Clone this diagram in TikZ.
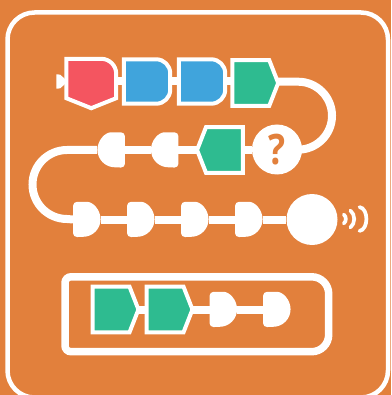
\documentclass[tikz,border=0pt]{standalone}
\usepackage{fontspec}
\setsansfont{Open Sans}
\definecolor{bgorange}{HTML}{E2803C}
\definecolor{redblock}{HTML}{F45560}
\definecolor{blueblock}{HTML}{40A4DC}
\definecolor{greenblock}{HTML}{2EBB90}

\tikzset{
	block/.style={ inner sep=0pt, minimum width=#1 },
	hatblock/.style={ block=49.5, minimum height=49 },
	capblock/.style={ block=46, minimum height=44 },
	hexblock/.style={ block=45.5, minimum height=45.5 },
	bead/.style={ block=27.5, minimum height=35 },
	hub/.style={ circle, fill=white, inner sep=0pt, minimum size=#1 },
	wire/.style={ white, line width=8 },
	outline/.style={ draw=white, line width=4, line join=miter },
	wave/.style={ white, line width=3.7, line cap=round, bend left=#1 }
}

% shapes are drawn around a node, with its size
\newcommand{\hatshape}[2]{\path[outline,fill=#2]
	(#1.north west) [rounded corners=15] -- (#1.north east)
	[rounded corners=0] -- ([yshift=10]#1.south east) -- (#1.south) -- ([yshift=10]#1.south west) -- cycle;}
\newcommand{\capshape}[2]{\path[outline,fill=#2]
	(#1.north west) [rounded corners=14] -- (#1.north east) -- (#1.south east)
	[rounded corners=0] -- (#1.south west) -- cycle;}
\newcommand{\hexright}[1]{\path[outline,fill=greenblock]
	(#1.north west) -- ([xshift=-9]#1.north east) -- (#1.east) -- ([xshift=-9]#1.south east) -- (#1.south west) -- cycle;}
\newcommand{\hexleft}[1]{\path[outline,fill=greenblock]
	(#1.north east) -- ([xshift=9]#1.north west) -- (#1.west) -- ([xshift=9]#1.south west) -- (#1.south east) -- cycle;}
\newcommand{\beadright}[1]{\fill[white]
	(#1.west) [rounded corners=4] -- (#1.north west) -- ([xshift=10]#1.north west) [sharp corners]
	arc[start angle=-90,end angle=90,radius=17.5] [rounded corners=4] -- (#1.south west) -- cycle;}
\newcommand{\beadleft}[1]{\fill[white]
	(#1.east) [rounded corners=4] -- (#1.north east) -- ([xshift=-10]#1.north east) [sharp corners]
	arc[start angle=-90,end angle=-270,radius=17.5] [rounded corners=4] -- (#1.south east) -- cycle;}

\begin{document}
\begin{tikzpicture}[x=1pt,y=-1pt]
\useasboundingbox (0,0) rectangle (391,395);
\fill[bgorange] (0,0) rectangle (391,395);
\draw[white,line width=4.5,rounded corners=27] (7.5,12.5) rectangle (388,397.5);

\node at (91.25,83.5) (redone) [hatblock] {};
\node at (147,81.5) (blueone) [capblock] {};
\node at (202,81.5) (bluetwo) [capblock] {};
\node at (255.25,83) (greenone) [hexblock] {};
\node at (277,149.5) (query) [hub=50,text=bgorange,font=\sffamily\bfseries\fontsize{42}{42}\selectfont] {\scalebox{.85}[1]{?}};
\node at (220,150) (greentwo) [hexblock] {};
\node at (164.5,150) (beadtwo) [bead] {};
\node at (111,150) (beadone) [bead] {};
\node at (87,219.5) (beadthree) [bead] {};
\node at (141,219.5) (beadfour) [bead] {};
\node at (195,219.5) (beadfive) [bead] {};
\node at (249,219.5) (beadsix) [bead] {};
\node at (312,219.5) (speaker) [hub=51] {};
\node at (115.5,309.5) (greenthree) [hexblock] {};
\node at (169.5,309.5) (greenfour) [hexblock] {};
\node at (223.5,309.5) (beadseven) [bead] {};
\node at (277,309.5) (beadeight) [bead] {};

% connectors
\foreach \a/\b in {blueone/bluetwo,beadtwo/greentwo,beadone/beadtwo,
	beadthree/beadfour,beadfour/beadfive,beadfive/beadsix,beadsix/speaker,greenthree/greenfour,greenfour/beadseven,beadseven/beadeight}
	\draw[wire] (\a) -- (\b);
\draw[wire] (greentwo) -- (query.west |- greentwo);
\draw[wire] (redone.east |- blueone) -- (blueone);
\draw[wire] (bluetwo) -- (bluetwo -| greenone.west);
\draw[wire] (greenone.east |- 0,81.7) -- (298,81.7) arc[start angle=-90,end angle=90,radius=34];
\draw[wire] (beadone.west) -- (67,150) arc[start angle=-90,end angle=-270,radius=34.5] -- (beadthree.west);

% blocks
\hatshape{redone}{redblock}
\capshape{blueone}{blueblock}
\capshape{bluetwo}{blueblock}
\hexright{greenone}
\hexleft{greentwo}
\hexright{greenthree}
\hexright{greenfour}
\foreach \n in {beadone,beadtwo} {\beadleft{\n}}
\foreach \n in {beadthree,beadfour,beadfive,beadsix,beadseven,beadeight} {\beadright{\n}}

% tail of first block
\fill[white,draw=white,line width=1.5,line join=round] (57,75) -- (60,75.5) -- (65,80) -- (65,83) -- (60,87.5) -- (57,88) -- cycle;

% sound
\foreach \x/\h/\b in {343.8/4.5/50,350.4/8.5/50,359.5/12/80} {
	\coordinate (wavetop) at (\x,219-\h);
	\coordinate (wavebot) at (\x,219+\h);
	\draw[wave=\b] (wavetop) to (wavebot);
}

% bottom box
\draw[white,line width=7.5] (71,276.8) -- (311.7,276.8) arc[start angle=-90,end angle=0,radius=17]
	-- (328.7,334.7) arc[start angle=0,end angle=90,radius=17] -- (71,351.7)
	arc[start angle=90,end angle=180,radius=6] -- (65,282.8) arc[start angle=180,end angle=270,radius=6] -- cycle;
\end{tikzpicture}
\end{document}
